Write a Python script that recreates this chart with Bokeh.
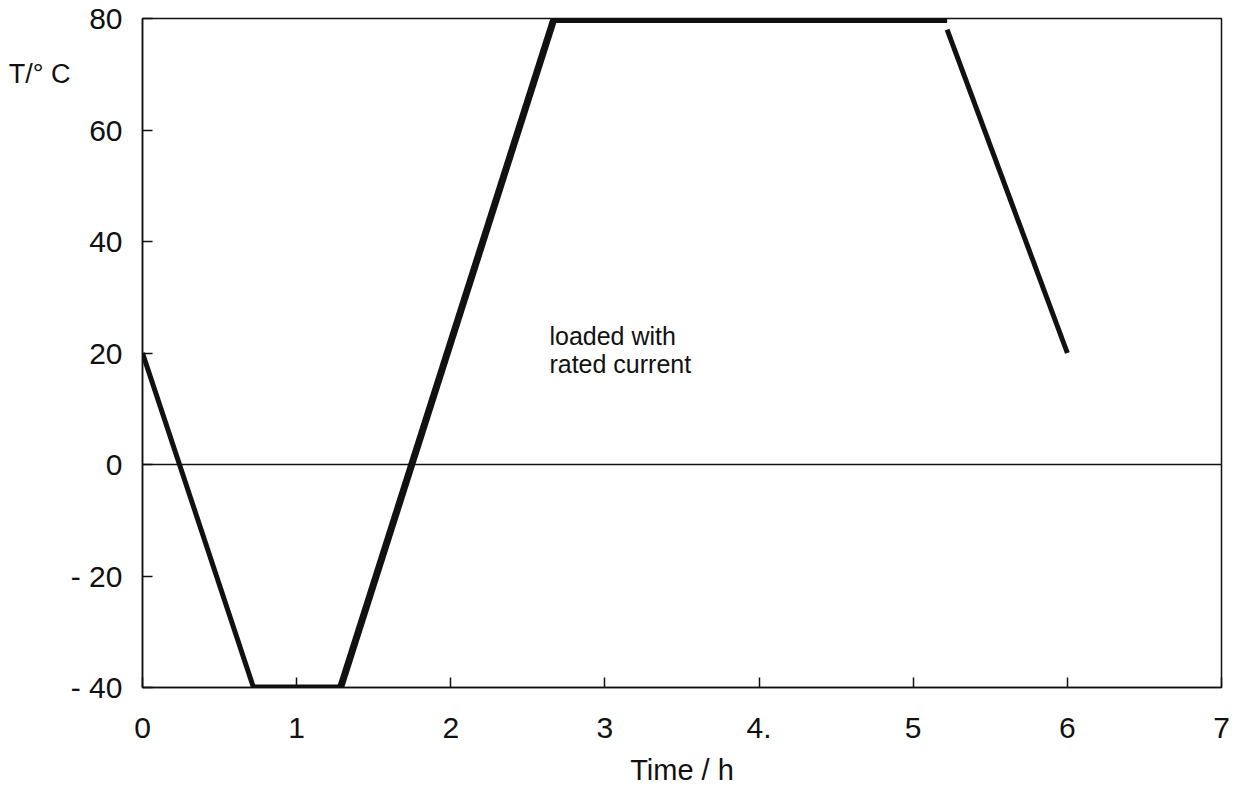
from bokeh.plotting import figure
from bokeh.models import FixedTicker, Span, Label, Range1d, LinearAxis
from bokeh.embed import file_html
from bokeh.resources import INLINE

# Temperature profile (time in h, temperature in °C)
time_h = [0.0, 0.72, 1.285, 2.67, 5.22]
temp_c = [20, -40, -40, 80, 80]
# final cooling segment (starts slightly below the 80 °C plateau)
cool_time = [5.22, 6.0]
cool_temp = [78, 20]

x_ticks = [0, 1, 2, 3, 4, 5, 6, 7]
x_labels = ["0", "1", "2", "3", "4.", "5", "6", "7"]
y_ticks = [-40, -20, 0, 20, 40, 60, 80]
y_labels = ["- 40", "- 20", "0", "20", "40", "60", "80"]

FONT = "Liberation Sans"
INK = "#111111"

p = figure(width=1234, height=793, output_backend="svg", toolbar_location=None,
           x_range=Range1d(0, 7), y_range=Range1d(-40, 80),
           min_border_left=142, min_border_right=13, min_border_top=18, min_border_bottom=106)
p.background_fill_color = "white"
p.border_fill_color = "white"
p.outline_line_color = INK
p.outline_line_width = 1.5
p.grid.visible = False

for ax, ticks, labels in ((p.xaxis[0], x_ticks, x_labels), (p.yaxis[0], y_ticks, y_labels)):
    ax.ticker = FixedTicker(ticks=ticks)
    ax.major_label_overrides = {t: l for t, l in zip(ticks, labels)}
    ax.major_tick_in = 10
    ax.major_tick_out = 0
    ax.minor_tick_line_color = None
    ax.axis_line_color = INK
    ax.axis_line_width = 1.5
    ax.major_tick_line_color = INK
    ax.major_tick_line_width = 1.5
    ax.major_label_text_font = FONT
    ax.major_label_text_font_size = "30px"
    ax.major_label_text_color = INK

p.xaxis.major_label_standoff = 30
p.yaxis.major_label_standoff = 20
p.xaxis.axis_label = "Time / h"
p.xaxis.axis_label_text_font = FONT
p.xaxis.axis_label_text_font_size = "29px"
p.xaxis.axis_label_text_font_style = "normal"
p.xaxis.axis_label_standoff = 13
p.xaxis.axis_label_text_color = INK

# y-axis title, placed horizontally near the top as in the original
title_axis = LinearAxis(ticker=FixedTicker(ticks=[70]), major_label_overrides={70: "T/° C"},
                        axis_line_color=None, major_tick_line_color=None, minor_tick_line_color=None,
                        major_label_text_font=FONT, major_label_text_font_size="27px",
                        major_label_text_color=INK, major_label_standoff=-9)
p.add_layout(title_axis, "left")

p.add_layout(Span(location=0, dimension="width", line_color=INK, line_width=1.5))

# profile segments with varying stroke weight as in the original trace
widths = [5, 6, 7, 9]
for i, w in enumerate(widths):
    p.line(time_h[i:i + 2], temp_c[i:i + 2], line_color=INK, line_width=w, line_cap="butt")
p.line(cool_time, cool_temp, line_color=INK, line_width=5, line_cap="butt")

p.add_layout(Label(x=2.64, y=25.6, text="loaded with\nrated current", text_font=FONT,
                   text_font_size="25px", text_color=INK, text_baseline="top", text_line_height=1.0))

open("out.html", "w").write(file_html(p, INLINE))
